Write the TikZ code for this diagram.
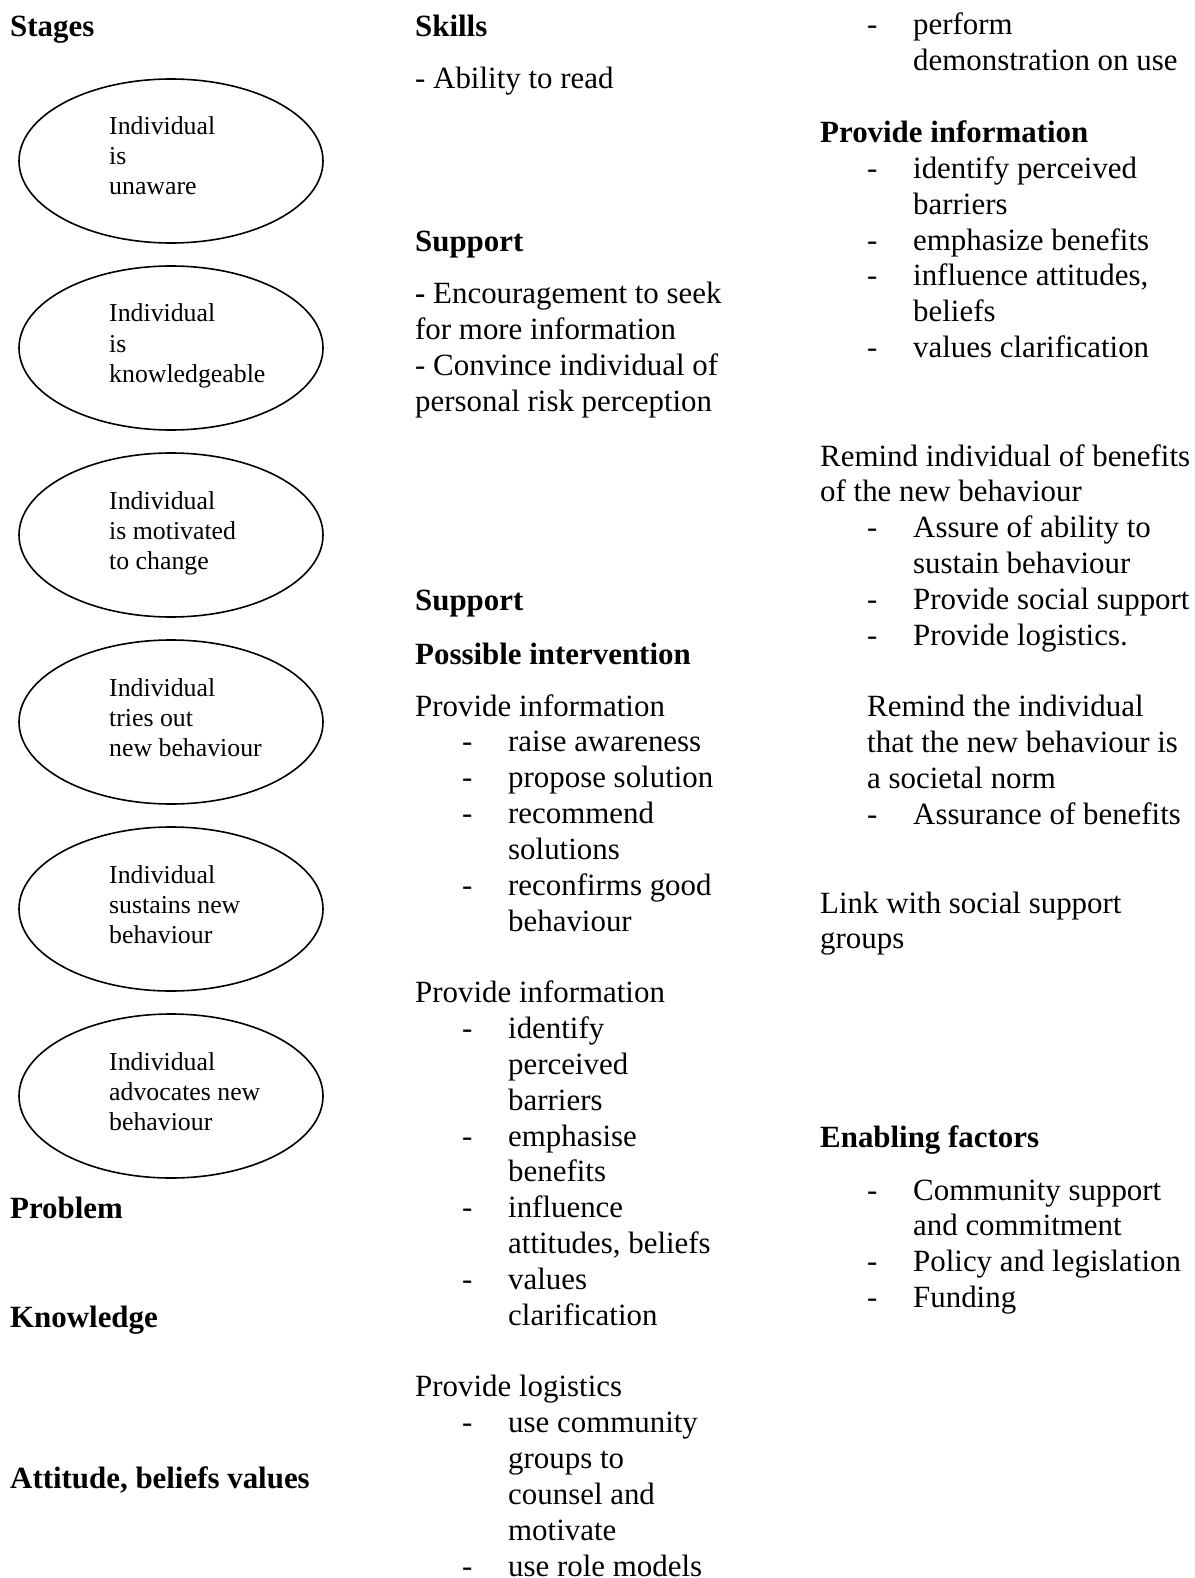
\documentclass[tikz,border=0pt]{standalone}
\usepackage{fontspec}
\setmainfont{Liberation Serif}
\usetikzlibrary{shapes.geometric}
\newcommand{\blk}[1]{\begin{tabular}[t]{@{}l@{}}#1\end{tabular}}
\newcommand{\itm}[1]{\hspace*{47pt}\makebox[46pt][l]{-}#1}
\newcommand{\cnt}[1]{\hspace*{93pt}#1}
\tikzset{
 txt/.style={anchor=base west, inner sep=0pt, font=\fontsize{30.9}{35.84}\selectfont},
 head/.style={txt, font=\fontsize{30.9}{35.84}\selectfont\bfseries},
 stage/.style={draw, ellipse, line width=1.6pt, minimum width=304pt, minimum height=164pt, inner sep=0pt},
 stagetxt/.style={anchor=base west, inner sep=0pt, font=\fontsize{25.8}{30}\selectfont}
}
\begin{document}
\begin{tikzpicture}[x=1pt,y=-1pt]
\useasboundingbox (0,0) rectangle (1194,1578);
\fill[white] (0,0) rectangle (1194,1578);
\foreach \t [count=\i from 0] in {{Individual\\is\\unaware}, {Individual\\is\\knowledgeable}, {Individual\\is motivated\\to change}, {Individual\\tries out\\new behaviour}, {Individual\\sustains new\\behaviour}, {Individual\\advocates new\\behaviour}}{
 \node[stage] (s\i) at (171,{161+187*\i}) {};
 \node[stagetxt] (st\i) at ([shift={(-62,-26)}]s\i.center) {\blk{\t}};
}
\path (10,37) node[head] (stages) {Stages}
 (10,1218) node[head] (problem) {Problem}
 (10,1327) node[head] (knowledge) {Knowledge}
 (10,1488) node[head] (attitude) {Attitude, beliefs values};
\path (415,37) node[head] (skills) {Skills}
 (415,89) node[txt] (read) {- Ability to read}
 (415,252) node[head] (supA) {Support}
 (415,304) node[txt] (encourage) {\blk{\textbf{-} Encouragement to seek\\for more information\\- Convince individual of\\personal risk perception}}
 (415,610) node[head] (supB) {Support}
 (415,664) node[head] (interv) {Possible intervention}
 (415,716) node[txt] (provA) {\blk{Provide information\\ \itm{raise awareness}\\ \itm{propose solution}\\ \itm{recommend}\\ \cnt{solutions}\\ \itm{reconfirms good}\\ \cnt{behaviour}\\ \\ Provide information\\ \itm{identify}\\ \cnt{perceived}\\ \cnt{barriers}\\ \itm{emphasise}\\ \cnt{benefits}\\ \itm{influence}\\ \cnt{attitudes, beliefs}\\ \itm{values}\\ \cnt{clarification}\\ \\ Provide logistics\\ \itm{use community}\\ \cnt{groups to}\\ \cnt{counsel and}\\ \cnt{motivate}\\ \itm{use role models}}};
\path (820,35) node[txt] (perform) {\blk{\itm{perform}\\ \cnt{demonstration on use}\\ \\ \textbf{Provide information}\\ \itm{identify perceived}\\ \cnt{barriers}\\ \itm{emphasize benefits}\\ \itm{influence attitudes,}\\ \cnt{beliefs}\\ \itm{values clarification}}}
 (820,466) node[txt] (remind) {\blk{Remind individual of benefits\\of the new behaviour\\ \itm{Assure of ability to}\\ \cnt{sustain behaviour}\\ \itm{Provide social support}\\ \itm{Provide logistics.}\\ \\ \hspace*{47pt}Remind the individual\\ \hspace*{47pt}that the new behaviour is\\ \hspace*{47pt}a societal norm\\ \itm{Assurance of benefits}}}
 (820,913) node[txt] (link) {\blk{Link with social support\\groups}}
 (820,1147) node[head] (enabling) {Enabling factors}
 (820,1200) node[txt] (factors) {\blk{\itm{Community support}\\ \cnt{and commitment}\\ \itm{Policy and legislation}\\ \itm{Funding}}};
\end{tikzpicture}
\end{document}
